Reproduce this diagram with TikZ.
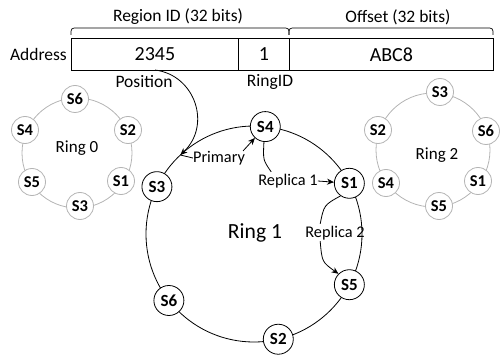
\documentclass[tikz,border=0pt]{standalone}
\usepackage{fontspec}
\setmainfont{Carlito}
\usetikzlibrary{arrows.meta,calc}
\definecolor{ringgray}{HTML}{B4B4B4}
\begin{document}
\begin{tikzpicture}[x=1pt,y=-1pt,
  lbl/.style={font=\fontsize{17.5}{20}\selectfont, inner sep=0pt},
  fld/.style={draw, line width=0.8pt, minimum height=32pt, inner sep=0pt, anchor=north west, font=\fontsize{20}{22}\selectfont},
  bignode/.style={circle, draw, fill=white, line width=0.8pt, minimum size=30pt, inner sep=0pt, font=\fontsize{17}{19}\selectfont\bfseries},
  smallnode/.style={circle, draw=ringgray, fill=white, line width=0.8pt, minimum size=27pt, inner sep=0pt, font=\fontsize{16.5}{19}\selectfont\bfseries},
  ann/.style={font=\fontsize{16.3}{18}\selectfont, inner sep=0pt},
  tip/.style={-{Stealth[length=7pt,width=6pt]}},
  conn/.style={line width=0.8pt},
]
\useasboundingbox (0,0) rectangle (500,358);

% address fields
\node[fld, minimum width=167pt] (f1) at (71,38) {2345};
\node[fld, minimum width=51pt] (f2) at (238,38) {1};
\node[fld, minimum width=204pt] (f3) at (289,38) {ABC8};
\node[lbl, anchor=east] (addr) at (67,54) {Address};
\node[lbl] (regid) at (178,17) {Region ID (32 bits)};
\node[lbl] (offs) at (398,17) {Offset (32 bits)};
\node[lbl] (posl) at (144,82) {Position};
\node[lbl] (ringid) at (270,82) {RingID};

% braces
\draw[line width=0.7pt] (71,35) .. controls (71,28) .. (78,28) -- (282,28) .. controls (289,28) .. (289,35);
\draw[line width=0.7pt] (289,35) .. controls (289,28) .. (296,28) -- (486,28) .. controls (493,28) .. (493,35);

% ring 0
\coordinate (c0) at (77,153);
\draw[ringgray, line width=0.8pt] (c0) circle[radius=55pt];
\node[smallnode] (a6) at (75,99) {S6};
\node[smallnode] (a4) at (25,130) {S4};
\node[smallnode] (a2) at (128,130) {S2};
\node[smallnode] (a5) at (32,182) {S5};
\node[smallnode] (a1) at (121,181) {S1};
\node[smallnode] (a3) at (80,206) {S3};
\node[font=\fontsize{17}{19}\selectfont] (ring0) at (77,148) {Ring 0};

% ring 2
\coordinate (c2) at (433,150);
\draw[ringgray, line width=0.8pt] (c2) circle[radius=57pt];
\node[smallnode] (b3) at (440,92) {S3};
\node[smallnode] (b2) at (378,130) {S2};
\node[smallnode] (b6) at (486,131) {S6};
\node[smallnode] (b4) at (386,183) {S4};
\node[smallnode] (b1) at (478,181) {S1};
\node[smallnode] (b5) at (439,206) {S5};
\node[font=\fontsize{17}{19}\selectfont] (ring2) at (437,155) {Ring 2};

% ring 1
\coordinate (c1) at (254,234);
\draw[conn] (c1) circle[radius=108pt];
\node[bignode] (s4) at ($(c1)+(-84:108)$) {S4};
\node[bignode] (s3) at ($(c1)+(-154:108)$) {S3};
\node[bignode] (s1) at ($(c1)+(-28:108)$) {S1};
\node[bignode] (s5) at ($(c1)+(28:108)$) {S5};
\node[bignode] (s6) at ($(c1)+(142:108)$) {S6};
\node[bignode] (s2) at ($(c1)+(77:108)$) {S2};
\coordinate (prim) at ($(c1)+(-133:108)$);
\node[font=\fontsize{21.6}{24}\selectfont] (ring1) at (255,233) {Ring 1};

% position curve
\coordinate (posstart) at (155,70);
\draw[conn, tip] (posstart) .. controls (195,75) and (212,125) .. (prim);

% annotations
\node[ann] (prl) at (219,158) {Primary};
\draw[conn] (prl.west) -- (prim);
\draw[conn, tip] ([xshift=-2pt]prl.north east) -- (s4);

\node[ann] (rp1) at (288,181) {Replica 1};
\draw[conn] (s4.265) .. controls (263,160) .. ([xshift=13pt,yshift=2pt]rp1.north west);
\draw[conn, tip] (rp1.east) -- (s1);

\node[ann] (rp2) at (335,233) {Replica 2};
\draw[conn] (s1.235) .. controls (324,205) .. ([xshift=15pt,yshift=2pt]rp2.north west);
\draw[conn, tip] ([xshift=15pt,yshift=-1pt]rp2.south west) .. controls (322,262) .. (s5.135);

\end{tikzpicture}
\end{document}
